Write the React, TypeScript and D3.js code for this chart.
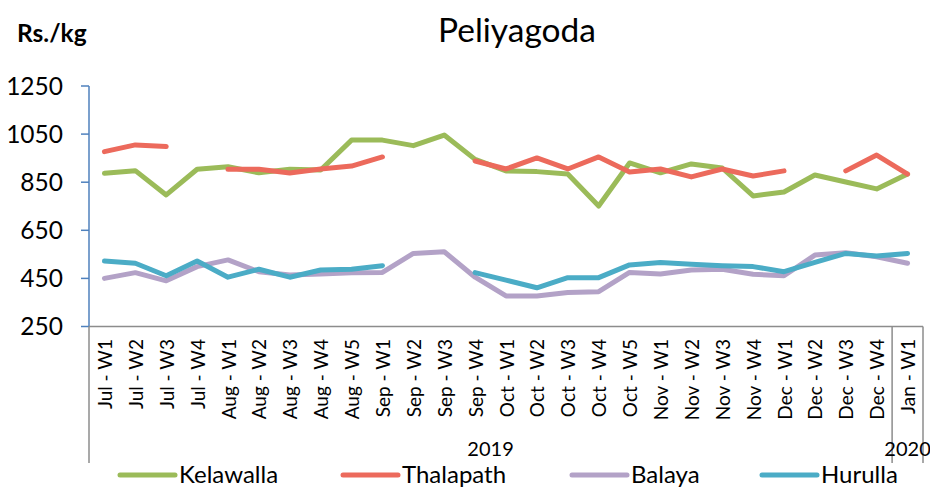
import React from "react";
import * as d3 from "d3";

const categories = [
  "Jul - W1", "Jul - W2", "Jul - W3", "Jul - W4",
  "Aug - W1", "Aug - W2", "Aug - W3", "Aug - W4", "Aug - W5",
  "Sep - W1", "Sep - W2", "Sep - W3", "Sep - W4",
  "Oct - W1", "Oct - W2", "Oct - W3", "Oct - W4", "Oct - W5",
  "Nov - W1", "Nov - W2", "Nov - W3", "Nov - W4",
  "Dec - W1", "Dec - W2", "Dec - W3", "Dec - W4",
  "Jan - W1",
];

const years = [
  { label: "2019", from: 0, to: 25 },
  { label: "2020", from: 26, to: 26 },
];

const kelawalla: (number | null)[] = [887, 898, 797, 904, 914, 889, 904, 901, 1025, 1025, 1002, 1046, 945, 897, 894, 884, 751, 930, 889, 926, 909, 793, 809, 880, 851, 822, 884];
const thalapath: (number | null)[] = [977, 1005, 998, null, 904, 904, 888, 905, 917, 955, null, null, 938, 905, 951, 905, 955, 892, 905, 872, 905, 876, 897, null, 897, 963, 884];
const balaya: (number | null)[] = [450, 474, 440, 499, 527, 478, 464, 468, 474, 475, 554, 561, 455, 377, 377, 391, 395, 475, 468, 485, 488, 467, 461, 547, 557, 540, 513];
const hurulla: (number | null)[] = [522, 513, 461, 522, 455, 488, 455, 485, 488, 503, null, null, 474, 443, 411, 453, 453, 506, 516, 509, 503, 499, 478, 517, 554, 543, 554];

const yTicks = [250, 450, 650, 850, 1050, 1250];

const series = [
  { name: "Kelawalla", values: kelawalla, color: "#9BBB59" },
  { name: "Thalapath", values: thalapath, color: "#EC6A5C" },
  { name: "Balaya", values: balaya, color: "#B3A2C7" },
  { name: "Hurulla", values: hurulla, color: "#4BACC6" },
];

const legendX = [120, 343, 572, 762];

const FONT = "Lato, 'Open Sans', sans-serif";

export default function App() {
  const W = 930;
  const H = 487;
  const left = 89;
  const right = 923;
  const top = 86;
  const bottom = 326.5;

  const x = d3.scaleBand<number>().domain(d3.range(categories.length)).range([left, right]);
  const y = d3.scaleLinear().domain([250, 1250]).range([bottom, top]);
  const cx = (i: number) => (x(i) as number) + x.bandwidth() / 2;

  const line = d3
    .line<number | null>()
    .defined((d) => d !== null)
    .x((_, i) => cx(i))
    .y((d) => y(d as number));

  return (
    <svg width={W} height={H} style={{ position: "absolute", left: 0, top: 0 }}>
      <rect width={W} height={H} fill="#ffffff" />
      <text x={517} y={42} textAnchor="middle" fontFamily={FONT} fontSize={33.5} fill="#000">
        Peliyagoda
      </text>
      <text x={17} y={42} fontFamily={FONT} fontSize={24.5} fontWeight="bold" fill="#000">
        Rs./kg
      </text>

      {/* Y axis */}
      <line x1={left} x2={left} y1={top} y2={bottom} stroke="#4F81BD" strokeWidth={1.5} />
      {yTicks.map((t) => (
        <g key={t}>
          <line x1={left - 8} x2={left} y1={y(t)} y2={y(t)} stroke="#4F81BD" strokeWidth={1.5} />
          <text x={63} y={y(t)} dy="0.36em" textAnchor="end" fontFamily={FONT} fontSize={24.5} fill="#000">
            {t}
          </text>
        </g>
      ))}

      {/* X axis and grouping lines */}
      <line x1={left} x2={right} y1={bottom} y2={bottom} stroke="#8C8C8C" strokeWidth={1.5} />
      <line x1={left} x2={left} y1={bottom} y2={463} stroke="#8C8C8C" strokeWidth={1.5} />
      {years.map((yr) => {
        const x0 = x(yr.from) as number;
        const x1 = (x(yr.to) as number) + x.bandwidth();
        return (
          <g key={yr.label}>
            <line x1={x1} x2={x1} y1={bottom} y2={463} stroke="#8C8C8C" strokeWidth={1.5} />
            <text x={(x0 + x1) / 2} y={456} textAnchor="middle" fontFamily={FONT} fontSize={20} fill="#000">
              {yr.label}
            </text>
          </g>
        );
      })}
      {categories.map((c, i) => (
        <text
          key={c}
          transform={`translate(${cx(i)},${339}) rotate(-90)`}
          textAnchor="end"
          dominantBaseline="central"
          fontFamily={FONT}
          fontSize={19}
          fill="#000"
        >
          {c}
        </text>
      ))}

      {/* Series */}
      {series.map((s) => (
        <path
          key={s.name}
          d={line(s.values) || ""}
          fill="none"
          stroke={s.color}
          strokeWidth={5}
          strokeLinecap="round"
          strokeLinejoin="round"
        />
      ))}

      {/* Legend */}
      {series.map((s, i) => (
        <g key={s.name}>
          <line x1={legendX[i]} x2={legendX[i] + 55} y1={475} y2={475} stroke={s.color} strokeWidth={5} strokeLinecap="round" />
          <text x={legendX[i] + 59} y={483} fontFamily={FONT} fontSize={24} fill="#000">
            {s.name}
          </text>
        </g>
      ))}
    </svg>
  );
}
